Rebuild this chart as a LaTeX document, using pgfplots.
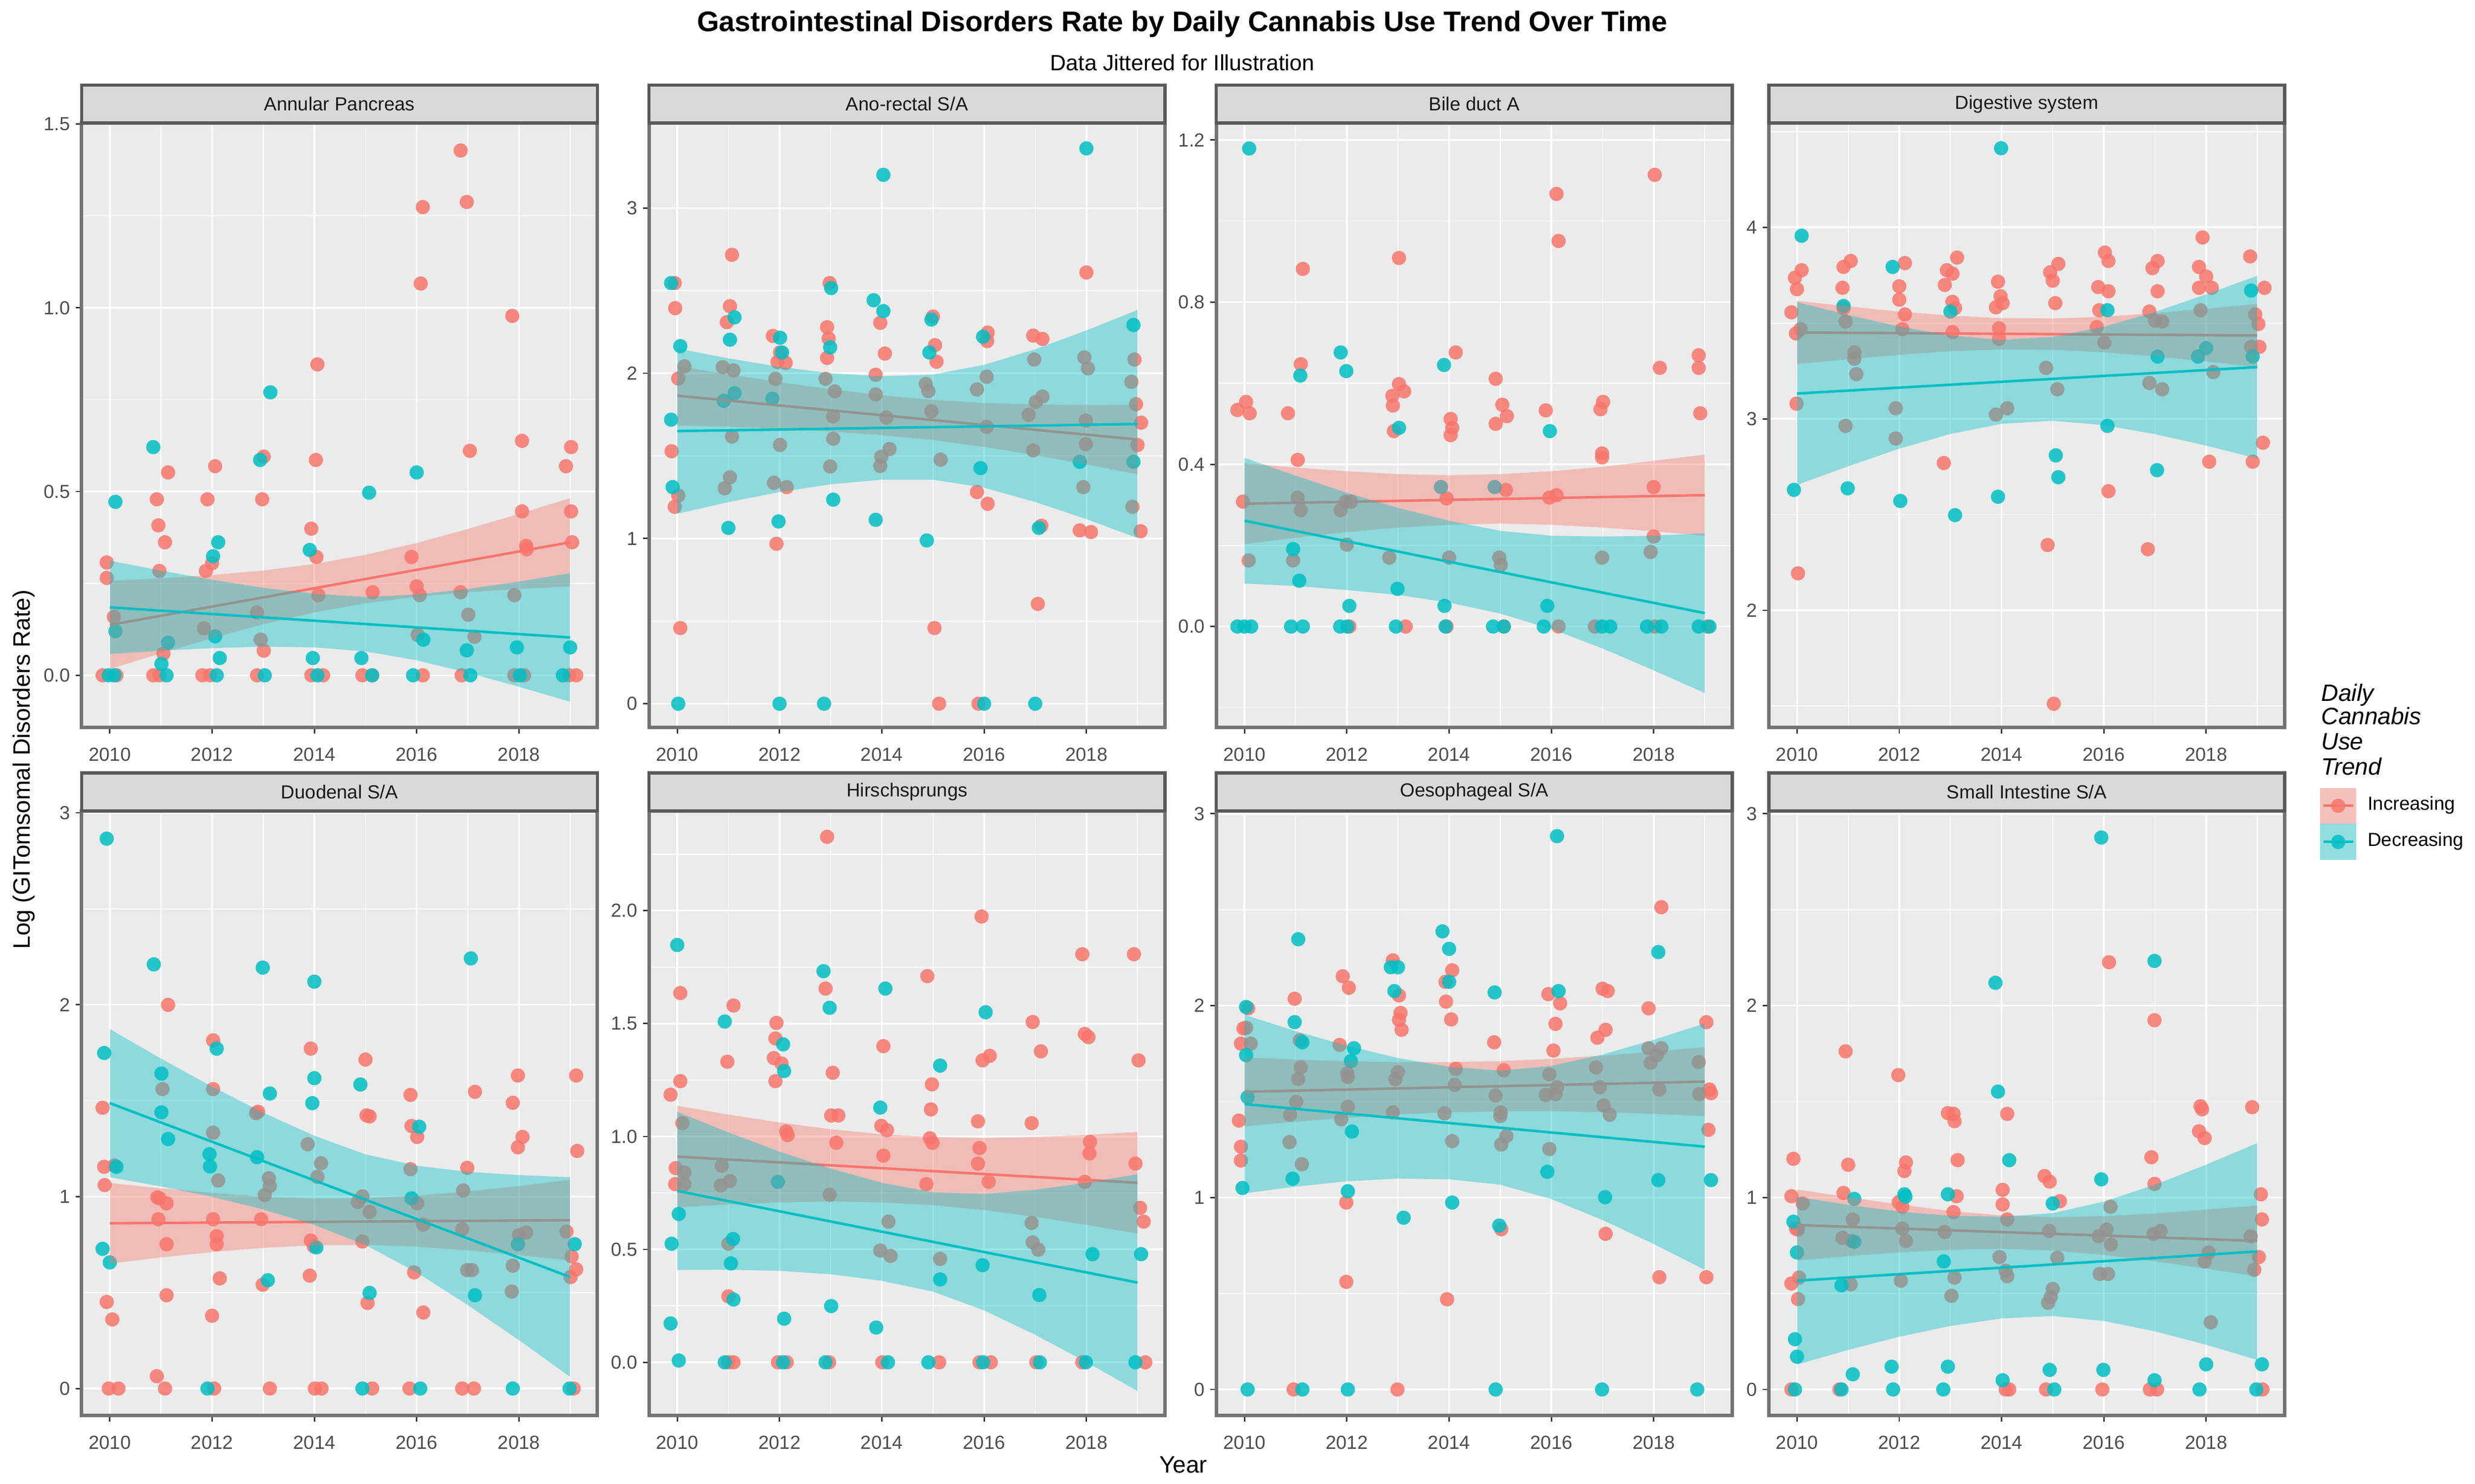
\documentclass[border=0pt]{standalone}
\usepackage{fontspec}
\setmainfont{Liberation Sans}
\usepackage{pgfplots}
\pgfplotsset{compat=1.18}

\definecolor{incr}{HTML}{F8766D}
\definecolor{decr}{HTML}{00BFC4}
\definecolor{panelbg}{HTML}{EBEBEB}
\definecolor{stripbg}{HTML}{D9D9D9}
\definecolor{panelborder}{HTML}{737373}
\definecolor{stripborder}{HTML}{595959}
\definecolor{tickgray}{HTML}{4D4D4D}
\definecolor{keybg}{HTML}{F2F2F2}

\pgfplotsset{
  panel/.style={
    scale only axis, width=326.8pt, height=383pt, anchor=south west,
    xmin=2009.449, xmax=2019.535,
    xtick={2010,2012,2014,2016,2018}, xticklabels={2010,2012,2014,2016,2018},
    minor xtick={2011,2013,2015,2017,2019},
    grid=both,
    major grid style={white, line width=1.1pt},
    minor grid style={white, line width=0.55pt},
    axis background/.style={fill=panelbg},
    axis line style={draw=panelborder, line width=2.2pt},
    tick pos=left, tick align=outside,
    major tick length=3.8pt, minor tick length=0pt,
    tick style={draw=black!80, line width=0.9pt},
    ticklabel style={font=\fontsize{12}{12}\selectfont, text=tickgray},
    xticklabel style={yshift=-5.5pt},
    clip mode=individual,
  },
  redpts/.style={only marks, mark=*, mark size=4.5pt, color=incr,
    mark options={draw opacity=0, fill=incr, fill opacity=0.85}},
  cyanpts/.style={only marks, mark=*, mark size=4.5pt, color=decr,
    mark options={draw opacity=0, fill=decr, fill opacity=0.85}},
  redband/.style={draw=none, fill=incr, fill opacity=0.4, no marks},
  cyanband/.style={draw=none, fill=decr, fill opacity=0.4, no marks},
  redline/.style={incr, line width=1.6pt, no marks},
  cyanline/.style={decr, line width=1.6pt, no marks},
}
\newcommand{\strip}[1]{%
  \draw[fill=stripbg, draw=stripborder, line width=2pt] (rel axis cs:0,1) rectangle ([yshift=24pt]rel axis cs:1,1);
  \node[font=\fontsize{12}{12}\selectfont, text=black!90] at ([yshift=12pt]rel axis cs:0.5,1) {#1};}

\begin{document}
\begin{tikzpicture}
\useasboundingbox (0,0) rectangle (1568pt,940pt);

% ---------- Annular Pancreas
\begin{axis}[panel, at={(51.7pt,479.1pt)}, ymin=-0.142, ymax=1.503,
  ytick={0,0.5,1,1.5}, yticklabels={0.0,0.5,1.0,1.5}, minor ytick={0.25,0.75,1.25}]
\addplot[redpts] coordinates {
(2009.94,0.307)(2009.94,0.265)(2009.86,0)(2010.13,0)(2010.08,0.159)
(2010.92,0.479)(2010.95,0.408)(2011.14,0.552)(2011.08,0.362)(2010.97,0.284)(2011.05,0.059)(2010.85,0)(2010.97,0)
(2012.06,0.569)(2011.91,0.479)(2012.00,0.305)(2011.88,0.284)(2011.84,0.128)(2011.81,0)(2011.96,0)
(2013.01,0.595)(2012.98,0.479)(2012.88,0.171)(2012.95,0.097)(2013.01,0.067)(2012.88,0)
(2014.06,0.846)(2014.03,0.586)(2013.94,0.399)(2014.04,0.322)(2014.08,0.218)(2013.94,0)(2014.17,0)
(2015.14,0.226)(2014.94,0)(2015.13,0)
(2016.12,1.274)(2016.08,1.066)(2015.90,0.322)(2016.00,0.242)(2016.06,0.218)(2016.02,0.110)(2016.12,0)
(2016.86,1.428)(2016.98,1.288)(2017.04,0.611)(2016.86,0.226)(2017.01,0.165)(2017.13,0.105)(2016.88,0)
(2017.87,0.978)(2018.06,0.638)(2018.06,0.446)(2018.14,0.352)(2018.15,0.343)(2017.91,0.218)(2017.91,0)(2018.10,0)
(2019.02,0.621)(2018.92,0.569)(2019.02,0.446)(2019.04,0.362)(2019.12,0)(2018.98,0)};
\addplot[cyanpts] coordinates {
(2010.11,0.472)(2010.11,0.120)(2009.98,0)(2010.09,0)
(2010.85,0.621)(2011.14,0.089)(2011.01,0.031)(2011.11,0)
(2012.12,0.362)(2012.02,0.324)(2012.06,0.106)(2012.15,0.047)(2012.09,0)
(2013.14,0.770)(2012.94,0.586)(2013.03,0)
(2013.91,0.341)(2013.97,0.047)(2014.06,0)
(2015.07,0.497)(2014.92,0.047)(2015.13,0)
(2016.00,0.552)(2016.13,0.097)(2015.93,0)
(2016.98,0.068)(2017.05,0)(2017.96,0.076)(2018.02,0)(2019.00,0.076)(2018.86,0)};
\addplot[redband] coordinates {(2010,0.257)(2011,0.264)(2012,0.273)(2013,0.285)(2014,0.303)(2015,0.328)(2016,0.360)(2017,0.398)(2018,0.439)(2019,0.482)
(2019,0.242)(2018,0.235)(2017,0.226)(2016,0.214)(2015,0.196)(2014,0.171)(2013,0.139)(2012,0.101)(2011,0.060)(2010,0.017)};
\addplot[redline] coordinates {(2010,0.137)(2019,0.362)};
\addplot[cyanband] coordinates {(2010,0.312)(2011,0.285)(2012,0.260)(2013,0.238)(2014,0.222)(2015,0.213)(2016,0.220)(2017,0.235)(2018,0.255)(2019,0.278)
(2019,-0.072)(2018,-0.031)(2017,0.007)(2016,0.041)(2015,0.065)(2014,0.076)(2013,0.078)(2012,0.074)(2011,0.067)(2010,0.058)};
\addplot[cyanline] coordinates {(2010,0.185)(2019,0.103)};
\strip{Annular Pancreas}
\end{axis}

% ---------- Ano-rectal S/A
\begin{axis}[panel, at={(411.2pt,479.1pt)}, ymin=-0.144, ymax=3.515,
  ytick={0,1,2,3}, yticklabels={0,1,2,3}, minor ytick={0.5,1.5,2.5,3.5}]
\addplot[redpts] coordinates {
(2009.95,2.546)(2009.96,2.394)(2010.02,1.968)(2009.89,1.528)(2009.95,1.192)(2010.02,1.260)(2010.06,0.458)(2010.14,2.042)
(2011.07,2.717)(2011.03,2.406)(2010.97,2.309)(2010.89,2.037)(2011.10,2.017)(2011.07,1.617)(2011.03,1.370)(2010.93,1.304)
(2011.87,2.226)(2012.01,2.126)(2011.96,2.068)(2012.12,2.063)(2011.92,1.966)(2012.01,1.566)(2011.89,1.337)(2012.14,1.311)(2011.94,0.968)
(2012.98,2.546)(2012.93,2.279)(2012.96,2.210)(2012.93,2.093)(2012.90,1.966)(2013.08,1.890)(2013.05,1.739)(2013.05,1.604)(2012.99,1.436)
(2013.97,2.305)(2014.06,2.119)(2013.88,1.991)(2013.88,1.872)(2014.09,1.732)(2014.15,1.541)(2013.99,1.495)(2013.97,1.439)
(2015.00,2.343)(2015.04,2.170)(2015.07,2.070)(2014.86,1.935)(2014.91,1.892)(2014.97,1.770)(2015.15,1.477)(2015.03,0.458)(2015.12,0)
(2016.07,2.246)(2016.06,2.195)(2016.05,1.979)(2015.86,1.902)(2016.05,1.676)(2015.86,1.281)(2016.07,1.210)(2015.89,0)
(2016.96,2.228)(2017.14,2.208)(2016.98,2.083)(2017.14,1.859)(2017.01,1.826)(2016.87,1.749)(2016.96,1.533)(2017.12,1.077)(2017.05,0.604)
(2018.00,2.610)(2017.96,2.096)(2018.03,2.030)(2017.99,1.714)(2017.99,1.571)(2017.94,1.311)(2017.87,1.049)(2018.09,1.039)
(2018.94,2.083)(2018.88,1.948)(2018.97,1.813)(2019.07,1.701)(2019.00,1.566)(2018.90,1.192)(2019.06,1.044)};
\addplot[cyanpts] coordinates {
(2009.88,2.546)(2010.06,2.164)(2009.88,1.719)(2009.91,1.311)(2010.02,0)
(2011.12,2.338)(2011.03,2.203)(2011.12,1.879)(2010.91,1.833)(2011.00,1.064)
(2012.01,2.215)(2012.05,2.126)(2011.86,1.846)(2011.98,1.103)(2012.00,0)
(2013.01,2.516)(2012.99,2.157)(2013.05,1.235)(2012.87,0)
(2014.03,3.201)(2013.84,2.442)(2014.03,2.376)(2013.88,1.113)
(2014.97,2.325)(2014.93,2.126)(2014.88,0.988)
(2015.98,2.221)(2015.93,1.426)(2016.00,0)
(2017.07,1.064)(2017.00,0)
(2018.00,3.361)(2017.87,1.464)
(2018.92,2.292)(2018.92,1.464)};
\addplot[redband] coordinates {(2010,2.044)(2011,1.994)(2012,1.946)(2013,1.904)(2014,1.867)(2015,1.839)(2016,1.820)(2017,1.812)(2018,1.808)(2019,1.809)
(2019,1.389)(2018,1.448)(2017,1.504)(2016,1.554)(2015,1.596)(2014,1.625)(2013,1.648)(2012,1.664)(2011,1.676)(2010,1.684)};
\addplot[redline] coordinates {(2010,1.864)(2019,1.599)};
\addplot[cyanband] coordinates {(2010,2.150)(2011,2.090)(2012,2.039)(2013,2.000)(2014,1.982)(2015,1.992)(2016,2.051)(2017,2.145)(2018,2.259)(2019,2.383)
(2019,1.003)(2018,1.117)(2017,1.221)(2016,1.307)(2015,1.356)(2014,1.356)(2013,1.328)(2012,1.281)(2011,1.220)(2010,1.150)};
\addplot[cyanline] coordinates {(2010,1.650)(2019,1.693)};
\strip{Ano-rectal S/A}
\end{axis}

% ---------- Bile duct A
\begin{axis}[panel, at={(770.6pt,479.1pt)}, ymin=-0.249, ymax=1.242,
  ytick={0,0.4,0.8,1.2}, yticklabels={0.0,0.4,0.8,1.2}, minor ytick={-0.2,0.2,0.6,1.0}]
\addplot[redpts] coordinates {
(2009.86,0.534)(2010.03,0.554)(2010.10,0.526)(2009.97,0.308)(2010.08,0.163)
(2011.14,0.882)(2011.10,0.647)(2010.85,0.526)(2011.04,0.411)(2011.04,0.318)(2011.10,0.287)(2010.95,0.163)
(2011.98,0.308)(2012.08,0.308)(2011.88,0.287)(2012.00,0.202)(2012.05,0)
(2013.02,0.909)(2013.02,0.598)(2013.12,0.580)(2012.89,0.569)(2012.90,0.545)(2012.92,0.482)(2012.83,0.170)(2013.15,0)
(2014.13,0.676)(2014.03,0.512)(2014.06,0.490)(2014.03,0.472)(2013.95,0.316)(2014.00,0.170)(2013.95,0)
(2014.91,0.611)(2015.04,0.547)(2015.13,0.519)(2014.91,0.500)(2015.11,0.337)(2014.98,0.170)(2015.01,0.152)(2015.07,0)
(2016.10,1.067)(2016.14,0.951)(2015.89,0.533)(2015.96,0.318)(2016.10,0.324)(2016.14,0)
(2017.01,0.554)(2016.96,0.536)(2016.99,0.427)(2016.99,0.417)(2016.99,0.170)(2016.85,0)
(2018.02,1.114)(2018.12,0.638)(2018.00,0.344)(2018.00,0.222)(2017.94,0.184)(2018.02,0)
(2018.88,0.669)(2018.88,0.638)(2018.91,0.526)(2019.05,0)};
\addplot[cyanpts] coordinates {
(2010.09,1.179)(2009.86,0)(2010.00,0)(2010.13,0)
(2011.09,0.619)(2010.95,0.191)(2011.07,0.113)(2010.91,0)(2011.14,0)
(2011.88,0.676)(2011.99,0.630)(2012.05,0.051)(2011.87,0)(2012.01,0)
(2013.02,0.490)(2012.99,0.093)(2012.96,0)
(2013.90,0.645)(2013.84,0.344)(2013.91,0.051)(2013.93,0)
(2014.89,0.344)(2014.86,0)(2015.07,0)
(2015.97,0.482)(2015.92,0.051)(2015.85,0)
(2016.99,0)(2017.15,0)(2017.87,0)(2018.15,0)(2018.88,0)(2019.09,0)};
\addplot[redband] coordinates {(2010,0.403)(2011,0.392)(2012,0.383)(2013,0.376)(2014,0.373)(2015,0.376)(2016,0.383)(2017,0.394)(2018,0.409)(2019,0.424)
(2019,0.224)(2018,0.235)(2017,0.244)(2016,0.251)(2015,0.254)(2014,0.251)(2013,0.244)(2012,0.233)(2011,0.219)(2010,0.203)};
\addplot[redline] coordinates {(2010,0.303)(2019,0.324)};
\addplot[cyanband] coordinates {(2010,0.416)(2011,0.372)(2012,0.330)(2013,0.293)(2014,0.261)(2015,0.236)(2016,0.224)(2017,0.222)(2018,0.224)(2019,0.230)
(2019,-0.164)(2018,-0.108)(2017,-0.054)(2016,-0.006)(2015,0.032)(2014,0.059)(2013,0.078)(2012,0.090)(2011,0.100)(2010,0.106)};
\addplot[cyanline] coordinates {(2010,0.261)(2019,0.033)};
\strip{Bile duct A}
\end{axis}

% ---------- Digestive system
\begin{axis}[panel, at={(1120.6pt,479.1pt)}, ymin=1.388, ymax=4.545,
  ytick={2,3,4}, yticklabels={2,3,4}, minor ytick={1.5,2.5,3.5,4.5}]
\addplot[redpts] coordinates {
(2010.09,3.776)(2009.96,3.736)(2010.00,3.677)(2009.89,3.556)(2009.98,3.446)(2010.07,3.468)(2009.99,3.079)(2010.02,2.193)
(2011.05,3.824)(2010.91,3.793)(2010.89,3.684)(2010.91,3.578)(2010.95,3.508)(2011.12,3.347)(2011.12,3.314)(2011.16,3.233)(2010.95,2.963)
(2012.11,3.813)(2012.00,3.692)(2012.00,3.622)(2012.11,3.545)(2012.06,3.468)(2011.93,3.055)(2011.93,2.897)
(2013.13,3.842)(2012.93,3.776)(2013.04,3.758)(2012.89,3.699)(2013.04,3.611)(2013.09,3.578)(2013.04,3.453)(2012.87,2.769)
(2013.93,3.716)(2013.98,3.640)(2014.02,3.604)(2013.89,3.582)(2013.95,3.473)(2013.95,3.418)(2013.89,3.022)(2014.11,3.055)
(2014.95,3.765)(2015.11,3.809)(2015.00,3.721)(2015.05,3.604)(2014.87,3.266)(2015.09,3.154)(2014.90,2.341)(2015.02,1.512)
(2016.02,3.868)(2016.09,3.824)(2015.89,3.688)(2016.09,3.666)(2015.91,3.567)(2015.86,3.479)(2016.01,3.398)(2016.09,2.622)
(2016.95,3.787)(2017.05,3.824)(2017.05,3.666)(2016.89,3.560)(2017.00,3.512)(2017.14,3.508)(2016.89,3.187)(2017.14,3.154)(2016.86,2.319)
(2017.93,3.947)(2017.86,3.793)(2018.00,3.743)(2017.86,3.684)(2018.11,3.684)(2017.89,3.567)(2018.14,3.244)(2018.06,2.776)
(2018.86,3.848)(2019.14,3.684)(2018.96,3.545)(2019.02,3.495)(2019.04,3.376)(2018.88,3.376)(2019.11,2.875)(2018.91,2.776)};
\addplot[cyanpts] coordinates {
(2010.09,3.956)(2009.94,2.629)(2010.91,3.589)(2010.99,2.637)(2011.87,3.793)(2012.02,2.571)
(2013.00,3.560)(2013.09,2.497)(2013.99,4.413)(2013.93,2.593)(2015.06,2.809)(2015.11,2.695)
(2016.07,3.567)(2016.07,2.963)(2017.05,3.325)(2017.04,2.732)(2017.84,3.325)(2018.00,3.369)
(2018.88,3.670)(2018.91,3.325)};
\addplot[redband] coordinates {(2010,3.616)(2011,3.587)(2012,3.560)(2013,3.539)(2014,3.526)(2015,3.524)(2016,3.533)(2017,3.552)(2018,3.575)(2019,3.600)
(2019,3.270)(2018,3.299)(2017,3.326)(2016,3.347)(2015,3.360)(2014,3.362)(2013,3.353)(2012,3.334)(2011,3.311)(2010,3.286)};
\addplot[redline] coordinates {(2010,3.451)(2019,3.435)};
\addplot[cyanband] coordinates {(2010,3.609)(2011,3.542)(2012,3.482)(2013,3.435)(2014,3.412)(2015,3.428)(2016,3.481)(2017,3.558)(2018,3.650)(2019,3.747)
(2019,2.793)(2018,2.860)(2017,2.920)(2016,2.967)(2015,2.990)(2014,2.974)(2013,2.921)(2012,2.844)(2011,2.752)(2010,2.655)};
\addplot[cyanline] coordinates {(2010,3.132)(2019,3.270)};
\strip{Digestive system}
\end{axis}

% ---------- Duodenal S/A
\begin{axis}[panel, at={(51.7pt,43.3pt)}, ymin=-0.14, ymax=3.01,
  ytick={0,1,2,3}, yticklabels={0,1,2,3}, minor ytick={0.5,1.5,2.5}]
\addplot[redpts] coordinates {
(2009.86,1.463)(2009.89,1.155)(2009.90,1.060)(2009.94,0.451)(2010.05,0.360)(2009.98,0)(2010.17,0)(2010.09,1.162)
(2011.14,1.999)(2010.93,0.996)(2010.97,0.991)(2011.11,0.965)(2010.95,0.882)(2011.03,1.560)(2011.11,0.752)(2011.11,0.486)(2010.92,0.064)(2011.08,0)
(2012.02,1.814)(2012.02,1.560)(2012.02,1.333)(2012.12,1.084)(2012.02,0.882)(2012.09,0.794)(2012.09,0.752)(2012.15,0.574)(2012.00,0.379)(2012.04,0)
(2012.90,1.442)(2012.86,1.435)(2013.11,1.096)(2013.13,1.055)(2013.03,1.008)(2012.96,0.882)(2012.99,0.541)(2013.13,0)
(2013.93,1.771)(2013.87,1.273)(2014.13,1.174)(2014.06,1.103)(2013.93,0.771)(2013.99,0.740)(2013.91,0.588)(2014.01,0)(2014.14,0)
(2015.00,1.714)(2015.02,1.423)(2015.08,1.418)(2014.85,0.972)(2014.94,1.001)(2015.08,0.920)(2014.94,0.766)(2015.04,0.446)(2015.13,0)
(2015.88,1.530)(2015.90,1.368)(2016.01,1.311)(2015.88,1.143)(2016.01,0.965)(2016.13,0.854)(2015.95,0.605)(2016.13,0.396)(2015.86,0)
(2017.14,1.546)(2016.99,1.150)(2016.91,1.032)(2016.89,0.830)(2016.99,0.617)(2017.08,0.617)(2016.89,0)(2017.12,0)
(2017.98,1.631)(2017.88,1.489)(2018.07,1.311)(2017.98,1.257)(2018.00,0.799)(2018.14,0.813)(2017.88,0.640)(2017.86,0.505)
(2019.12,1.631)(2019.14,1.238)(2018.93,0.818)(2019.03,0.688)(2019.12,0.621)(2019.01,0.581)(2019.07,0)};
\addplot[cyanpts] coordinates {
(2009.94,2.865)(2009.89,1.748)(2010.13,1.155)(2009.86,0.728)(2010.00,0.657)
(2010.86,2.210)(2011.01,1.641)(2011.01,1.439)(2011.14,1.300)
(2011.95,1.221)(2011.96,1.157)(2012.09,1.771)(2011.91,0)
(2012.99,2.193)(2013.13,1.537)(2012.88,1.205)(2013.09,0.564)
(2014.00,2.120)(2014.00,1.617)(2013.96,1.487)(2014.04,0.735)
(2014.90,1.584)(2015.08,0.498)(2014.94,0)
(2016.05,1.364)(2015.90,0.991)(2016.07,0)
(2017.06,2.241)(2017.14,0.486)(2017.98,0.752)(2017.88,0)(2019.09,0.752)(2018.99,0)};
\addplot[redband] coordinates {(2010,1.071)(2011,1.043)(2012,1.019)(2013,0.999)(2014,0.990)(2015,0.992)(2016,1.005)(2017,1.027)(2018,1.055)(2019,1.087)
(2019,0.667)(2018,0.695)(2017,0.720)(2016,0.739)(2015,0.748)(2014,0.746)(2013,0.733)(2012,0.711)(2011,0.683)(2010,0.651)};
\addplot[redline] coordinates {(2010,0.861)(2019,0.877)};
\addplot[cyanband] coordinates {(2010,1.873)(2011,1.719)(2012,1.573)(2013,1.437)(2014,1.317)(2015,1.220)(2016,1.161)(2017,1.129)(2018,1.112)(2019,1.101)
(2019,0.061)(2018,0.252)(2017,0.435)(2016,0.605)(2015,0.748)(2014,0.852)(2013,0.933)(2012,0.999)(2011,1.053)(2010,1.101)};
\addplot[cyanline] coordinates {(2010,1.487)(2019,0.581)};
\strip{Duodenal S/A}
\end{axis}

% ---------- Hirschsprungs
\begin{axis}[panel, at={(411.2pt,43.3pt)}, ymin=-0.235, ymax=2.442,
  ytick={0,0.5,1,1.5,2}, yticklabels={0.0,0.5,1.0,1.5,2.0}, minor ytick={0.25,0.75,1.25,1.75,2.25}]
\addplot[redpts] coordinates {
(2009.87,1.185)(2010.06,1.635)(2010.06,1.245)(2009.97,0.860)(2009.96,0.789)(2010.10,1.059)(2010.14,0.840)(2010.14,0.789)
(2011.10,1.580)(2010.98,1.331)(2011.00,0.292)(2011.03,0.803)(2010.85,0.783)(2010.87,0.870)(2011.00,0.525)(2011.10,0)(2011.00,0)
(2011.94,1.503)(2011.92,1.434)(2011.89,1.347)(2012.04,1.323)(2011.92,1.245)(2012.13,1.022)(2012.16,1.006)(2011.97,0)(2012.14,0)
(2012.93,2.327)(2012.90,1.655)(2013.04,1.282)(2013.01,1.093)(2013.15,1.093)(2013.11,0.972)(2012.98,0.742)(2012.97,0)
(2014.03,1.400)(2013.99,1.047)(2014.10,1.028)(2014.03,0.915)(2014.13,0.623)(2013.97,0.495)(2014.17,0.471)(2014.01,0)
(2014.89,1.710)(2014.98,1.231)(2014.96,1.120)(2014.94,0.992)(2014.99,0.972)(2014.87,0.789)(2015.14,0.458)(2015.12,0)
(2015.95,1.974)(2016.11,1.357)(2015.97,1.337)(2015.88,1.067)(2015.91,0.949)(2015.88,0.880)(2016.09,0.799)(2015.91,0)(2016.13,0)
(2016.95,1.507)(2017.11,1.377)(2016.93,1.059)(2016.93,0.617)(2016.95,0.531)(2017.06,0.499)(2017.02,0)
(2017.92,1.807)(2017.97,1.454)(2018.04,1.440)(2018.07,0.976)(2018.06,0.925)(2017.97,0.799)(2017.92,0)
(2018.93,1.807)(2019.02,1.337)(2018.96,0.880)(2019.05,0.684)(2019.12,0.623)(2019.15,0)};
\addplot[cyanpts] coordinates {
(2010.00,1.848)(2010.03,0.657)(2009.89,0.525)(2009.87,0.172)(2010.03,0.008)
(2010.93,1.509)(2011.09,0.546)(2011.05,0.438)(2011.10,0.278)(2010.93,0)
(2012.07,1.408)(2012.09,1.290)(2011.97,0.799)(2012.09,0.193)(2012.07,0)
(2012.86,1.732)(2012.98,1.570)(2013.01,0.249)(2012.90,0)
(2014.07,1.655)(2013.97,1.128)(2013.89,0.154)(2014.12,0)
(2015.14,1.314)(2015.14,0.367)(2014.91,0)
(2016.03,1.550)(2015.97,0.430)(2015.98,0)
(2017.08,0.298)(2017.09,0)(2018.12,0.479)(2017.99,0)(2019.07,0.479)(2018.96,0)};
\addplot[redband] coordinates {(2010,1.136)(2011,1.097)(2012,1.062)(2013,1.032)(2014,1.010)(2015,0.998)(2016,0.994)(2017,0.998)(2018,1.007)(2019,1.020)
(2019,0.570)(2018,0.609)(2017,0.644)(2016,0.674)(2015,0.696)(2014,0.708)(2013,0.712)(2012,0.708)(2011,0.699)(2010,0.686)};
\addplot[redline] coordinates {(2010,0.911)(2019,0.795)};
\addplot[cyanband] coordinates {(2010,1.109)(2011,1.018)(2012,0.933)(2013,0.858)(2014,0.795)(2015,0.753)(2016,0.746)(2017,0.764)(2018,0.795)(2019,0.833)
(2019,-0.127)(2018,0.001)(2017,0.122)(2016,0.230)(2015,0.313)(2014,0.361)(2013,0.390)(2012,0.405)(2011,0.410)(2010,0.409)};
\addplot[cyanline] coordinates {(2010,0.759)(2019,0.353)};
\strip{Hirschsprungs}
\end{axis}

% ---------- Oesophageal S/A
\begin{axis}[panel, at={(770.6pt,43.3pt)}, ymin=-0.135, ymax=3.015,
  ytick={0,1,2,3}, yticklabels={0,1,2,3}, minor ytick={0.5,1.5,2.5}]
\addplot[redpts] coordinates {
(2010.07,1.986)(2009.98,1.881)(2009.93,1.802)(2010.12,1.802)(2010.03,1.885)(2009.89,1.401)(2009.93,1.265)(2009.93,1.193)
(2010.98,2.036)(2011.08,1.819)(2011.10,1.678)(2011.05,1.618)(2011.01,1.499)(2010.89,1.432)(2010.88,1.289)(2011.12,1.174)(2010.96,0)
(2011.92,2.153)(2012.04,2.093)(2011.86,1.795)(2012.01,1.647)(2012.02,1.628)(2012.02,1.473)(2011.89,1.408)(2011.99,0.974)(2011.99,0.561)
(2012.90,2.236)(2013.02,2.053)(2013.05,1.962)(2013.02,1.926)(2013.07,1.874)(2013.00,1.654)(2012.95,1.616)(2012.90,1.444)(2012.99,0)
(2014.06,2.184)(2013.93,2.124)(2013.94,2.021)(2014.04,1.928)(2014.13,1.671)(2014.11,1.587)(2013.91,1.439)(2014.06,1.294)(2013.96,0.470)
(2014.88,1.809)(2015.07,1.663)(2014.91,1.532)(2015.01,1.444)(2015.00,1.425)(2015.12,1.320)(2015.02,1.277)(2015.02,0.835)
(2015.94,2.060)(2016.17,2.012)(2016.08,1.905)(2016.04,1.766)(2015.96,1.642)(2016.11,1.575)(2015.89,1.535)(2016.08,1.539)(2015.96,1.253)
(2017.00,2.088)(2017.10,2.076)(2017.06,1.874)(2016.90,1.833)(2016.87,1.678)(2016.95,1.575)(2017.02,1.480)(2017.14,1.432)(2017.06,0.811)
(2018.15,2.513)(2017.90,1.986)(2017.90,1.778)(2018.15,1.778)(2018.06,1.742)(2017.94,1.702)(2018.11,1.563)(2018.11,0.585)
(2019.03,1.914)(2018.88,1.706)(2019.09,1.563)(2019.12,1.544)(2018.89,1.539)(2019.07,1.353)(2019.03,0.585)};
\addplot[cyanpts] coordinates {
(2010.03,1.993)(2010.03,1.742)(2010.06,1.523)(2009.96,1.050)(2010.06,0)
(2011.05,2.346)(2010.98,1.914)(2011.13,1.809)(2010.94,1.098)(2011.13,0)
(2012.14,1.778)(2012.08,1.711)(2012.10,1.344)(2012.02,1.033)(2012.02,0)
(2012.86,2.200)(2013.00,2.200)(2012.93,2.076)(2013.11,0.895)
(2013.87,2.387)(2014.00,2.296)(2014.00,2.124)(2014.06,0.974)
(2014.89,2.069)(2014.98,0.854)(2014.91,0)
(2016.11,2.883)(2016.14,2.076)(2015.92,1.134)
(2017.05,1.002)(2016.99,0)(2018.09,2.279)(2018.09,1.091)(2019.12,1.091)(2018.85,0)};
\addplot[redband] coordinates {(2010,1.731)(2011,1.719)(2012,1.710)(2013,1.706)(2014,1.706)(2015,1.711)(2016,1.723)(2017,1.739)(2018,1.760)(2019,1.784)
(2019,1.424)(2018,1.436)(2017,1.445)(2016,1.450)(2015,1.449)(2014,1.444)(2013,1.433)(2012,1.416)(2011,1.395)(2010,1.371)};
\addplot[redline] coordinates {(2010,1.551)(2019,1.604)};
\addplot[cyanband] coordinates {(2010,1.952)(2011,1.867)(2012,1.791)(2013,1.727)(2014,1.681)(2015,1.661)(2016,1.686)(2017,1.745)(2018,1.822)(2019,1.907)
(2019,0.623)(2018,0.758)(2017,0.883)(2016,0.992)(2015,1.067)(2014,1.095)(2013,1.099)(2012,1.085)(2011,1.057)(2010,1.022)};
\addplot[cyanline] coordinates {(2010,1.487)(2019,1.265)};
\strip{Oesophageal S/A}
\end{axis}

% ---------- Small Intestine S/A
\begin{axis}[panel, at={(1120.6pt,43.3pt)}, ymin=-0.135, ymax=3.015,
  ytick={0,1,2,3}, yticklabels={0,1,2,3}, minor ytick={0.5,1.5,2.5}]
\addplot[redpts] coordinates {
(2009.93,1.202)(2009.89,1.007)(2010.11,0.969)(2009.98,0.838)(2010.02,0.833)(2009.89,0.552)(2010.04,0.583)(2010.02,0.471)(2009.89,0)
(2010.95,1.762)(2011.00,1.171)(2010.91,1.024)(2011.09,0.886)(2010.89,0.790)(2011.07,0.774)(2011.05,0.548)(2010.83,0)
(2011.98,1.638)(2012.13,1.183)(2012.10,1.138)(2011.99,0.976)(2012.06,0.952)(2012.06,0.838)(2012.13,0.774)(2012.03,0.567)
(2012.95,1.440)(2013.06,1.436)(2013.08,1.398)(2013.14,1.195)(2013.12,1.007)(2013.06,0.924)(2012.89,0.821)(2013.08,0.583)(2013.02,0.488)
(2014.11,1.436)(2014.02,1.040)(2014.02,0.964)(2014.11,0.886)(2013.96,0.690)(2014.08,0.619)(2014.11,0.590)(2014.08,0)(2014.15,0)
(2014.84,1.112)(2014.94,1.083)(2015.14,0.981)(2014.93,0.826)(2015.09,0.686)(2015.00,0.524)(2014.96,0.481)(2014.91,0.452)(2014.87,0)
(2016.10,2.226)(2016.13,0.952)(2016.05,0.833)(2015.90,0.798)(2016.14,0.755)(2015.92,0.602)(2016.08,0.602)(2015.97,0)
(2016.99,1.924)(2016.93,1.210)(2016.99,1.071)(2017.11,0.826)(2016.97,0.810)(2016.90,0)(2017.04,0)
(2017.92,1.460)(2017.89,1.476)(2017.86,1.345)(2017.97,1.310)(2018.05,0.714)(2017.97,0.667)(2018.09,0.350)
(2018.90,1.471)(2019.07,1.017)(2019.09,0.886)(2019.03,0.690)(2018.87,0.798)(2018.94,0.624)(2019.10,0)};
\addplot[cyanpts] coordinates {
(2009.93,0.874)(2010.00,0.714)(2009.96,0.262)(2010.00,0.171)(2009.96,0)
(2011.12,0.993)(2011.12,0.769)(2010.87,0.543)(2011.09,0.079)(2010.87,0)
(2012.10,1.017)(2012.12,1.005)(2011.85,0.119)(2011.88,0)
(2012.95,1.017)(2012.87,0.667)(2012.95,0.119)(2012.86,0)
(2013.88,2.119)(2013.93,1.552)(2014.15,1.195)(2014.02,0.048)
(2015.00,0.969)(2014.94,0.102)(2015.03,0)
(2015.95,2.876)(2015.95,1.095)(2015.99,0.102)
(2016.99,2.233)(2016.99,0.048)(2018.00,0.131)(2017.87,0)(2019.09,0.131)(2018.98,0)};
\addplot[redband] coordinates {(2010,1.042)(2011,1.002)(2012,0.964)(2013,0.930)(2014,0.907)(2015,0.898)(2016,0.903)(2017,0.917)(2018,0.937)(2019,0.959)
(2019,0.589)(2018,0.630)(2017,0.668)(2016,0.701)(2015,0.724)(2014,0.733)(2013,0.728)(2012,0.714)(2011,0.695)(2010,0.672)};
\addplot[redline] coordinates {(2010,0.857)(2019,0.774)};
\addplot[cyanband] coordinates {(2010,1.004)(2011,0.962)(2012,0.927)(2013,0.905)(2014,0.900)(2015,0.919)(2016,0.979)(2017,1.067)(2018,1.171)(2019,1.284)
(2019,0.154)(2018,0.233)(2017,0.303)(2016,0.357)(2015,0.383)(2014,0.370)(2013,0.331)(2012,0.275)(2011,0.206)(2010,0.130)};
\addplot[cyanline] coordinates {(2010,0.567)(2019,0.719)};
\strip{Small Intestine S/A}
\end{axis}

% ---------- titles and axis labels
\node[anchor=base, font=\fontsize{18}{18}\selectfont\bfseries] at (749pt,920pt)
  {Gastrointestinal Disorders Rate by Daily Cannabis Use Trend Over Time};
\node[anchor=base, font=\fontsize{14}{14}\selectfont] at (749pt,895.4pt) {Data Jittered for Illustration};
\node[anchor=base, font=\fontsize{15}{15}\selectfont] at (749.6pt,6.8pt) {Year};
\node[rotate=90, font=\fontsize{15}{15}\selectfont] at (15pt,452.5pt) {Log (GITomsomal Disorders Rate)};

% ---------- legend
\begin{scope}[font=\fontsize{15}{15}\selectfont\itshape]
\node[anchor=base west, inner sep=0] at (1470.4pt,495.8pt) {Daily};
\node[anchor=base west, inner sep=0] at (1470.4pt,480.9pt) {Cannabis};
\node[anchor=base west, inner sep=0] at (1470.4pt,465pt) {Use};
\node[anchor=base west, inner sep=0] at (1470.4pt,449.2pt) {Trend};
\end{scope}
\fill[keybg] (1469.8pt,395.2pt) rectangle (1492.8pt,440.8pt);
\fill[incr, fill opacity=0.4] (1469.8pt,418.1pt) rectangle (1492.8pt,440.8pt);
\fill[decr, fill opacity=0.4] (1469.8pt,395.2pt) rectangle (1492.8pt,418.1pt);
\draw[incr, line width=1.6pt] (1471.9pt,429.5pt) -- (1490.8pt,429.5pt);
\fill[incr, fill opacity=0.85] (1481.3pt,429.5pt) circle (4.5pt);
\draw[decr, line width=1.6pt] (1471.9pt,406.6pt) -- (1490.8pt,406.6pt);
\fill[decr, fill opacity=0.85] (1481.3pt,406.6pt) circle (4.5pt);
\node[anchor=mid west, inner sep=0, font=\fontsize{12}{12}\selectfont] at (1499.8pt,429.5pt) {Increasing};
\node[anchor=mid west, inner sep=0, font=\fontsize{12}{12}\selectfont] at (1499.8pt,406.6pt) {Decreasing};
\end{tikzpicture}
\end{document}
